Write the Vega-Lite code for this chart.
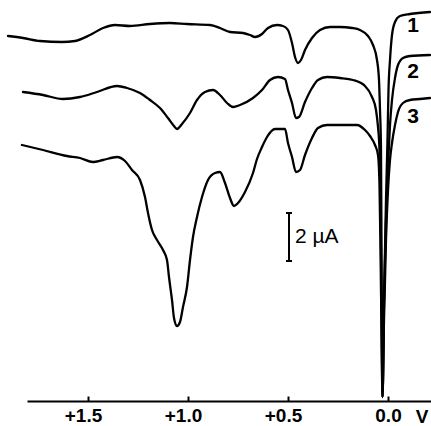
{
  "$schema": "https://vega.github.io/schema/vega-lite/v6.json",
  "width": 404,
  "height": 401,
  "padding": {"left": 27, "top": 0, "right": 0, "bottom": 25},
  "autosize": {"type": "none"},
  "background": "white",
  "config": {"view": {"stroke": null}},
  "datasets": {
    "curves": [
      {"curve":"1","E":1.90,"I":14.60},{"curve":"1","E":1.825,"I":14.52},{"curve":"1","E":1.74,"I":14.40},{"curve":"1","E":1.63,"I":14.36},{"curve":"1","E":1.565,"I":14.40},{"curve":"1","E":1.49,"I":14.64},{"curve":"1","E":1.425,"I":14.92},{"curve":"1","E":1.365,"I":15.04},{"curve":"1","E":1.29,"I":15.00},{"curve":"1","E":1.19,"I":15.08},{"curve":"1","E":1.09,"I":15.12},{"curve":"1","E":1.005,"I":15.08},{"curve":"1","E":0.89,"I":15.04},{"curve":"1","E":0.84,"I":14.92},{"curve":"1","E":0.79,"I":14.76},{"curve":"1","E":0.725,"I":14.72},{"curve":"1","E":0.69,"I":14.64},{"curve":"1","E":0.665,"I":14.56},{"curve":"1","E":0.63,"I":14.68},{"curve":"1","E":0.60,"I":14.92},{"curve":"1","E":0.555,"I":15.04},{"curve":"1","E":0.525,"I":15.00},{"curve":"1","E":0.50,"I":14.84},{"curve":"1","E":0.48,"I":14.32},{"curve":"1","E":0.465,"I":13.76},{"curve":"1","E":0.45,"I":13.52},{"curve":"1","E":0.435,"I":13.64},{"curve":"1","E":0.415,"I":14.04},{"curve":"1","E":0.38,"I":14.52},{"curve":"1","E":0.34,"I":14.84},{"curve":"1","E":0.29,"I":14.96},{"curve":"1","E":0.24,"I":14.96},{"curve":"1","E":0.18,"I":14.92},{"curve":"1","E":0.14,"I":14.84},{"curve":"1","E":0.10,"I":14.60},{"curve":"1","E":0.075,"I":14.24},{"curve":"1","E":0.055,"I":13.64},{"curve":"1","E":0.045,"I":12.84},{"curve":"1","E":0.04,"I":11.64},{"curve":"1","E":0.035,"I":10.04},{"curve":"1","E":0.0325,"I":6.04},{"curve":"1","E":0.0275,"I":0.16},{"curve":"1","E":0.02,"I":4.04},{"curve":"1","E":0.01,"I":8.04},{"curve":"1","E":0.0025,"I":10.44},{"curve":"1","E":-0.0025,"I":12.44},{"curve":"1","E":-0.01,"I":13.64},{"curve":"1","E":-0.02,"I":14.64},{"curve":"1","E":-0.035,"I":15.16},{"curve":"1","E":-0.06,"I":15.40},{"curve":"1","E":-0.11,"I":15.48},{"curve":"1","E":-0.21,"I":15.56},
      {"curve":"2","E":1.825,"I":12.36},{"curve":"2","E":1.725,"I":12.24},{"curve":"2","E":1.625,"I":12.08},{"curve":"2","E":1.54,"I":12.16},{"curve":"2","E":1.455,"I":12.36},{"curve":"2","E":1.355,"I":12.60},{"curve":"2","E":1.305,"I":12.52},{"curve":"2","E":1.24,"I":12.32},{"curve":"2","E":1.19,"I":12.04},{"curve":"2","E":1.14,"I":11.72},{"curve":"2","E":1.10,"I":11.32},{"curve":"2","E":1.07,"I":11.00},{"curve":"2","E":1.055,"I":10.88},{"curve":"2","E":1.03,"I":11.08},{"curve":"2","E":0.99,"I":11.52},{"curve":"2","E":0.955,"I":12.04},{"curve":"2","E":0.915,"I":12.36},{"curve":"2","E":0.875,"I":12.44},{"curve":"2","E":0.84,"I":12.24},{"curve":"2","E":0.805,"I":11.92},{"curve":"2","E":0.775,"I":11.76},{"curve":"2","E":0.74,"I":11.84},{"curve":"2","E":0.675,"I":12.12},{"curve":"2","E":0.63,"I":12.44},{"curve":"2","E":0.59,"I":12.84},{"curve":"2","E":0.55,"I":12.96},{"curve":"2","E":0.515,"I":12.88},{"curve":"2","E":0.50,"I":12.44},{"curve":"2","E":0.48,"I":11.92},{"curve":"2","E":0.46,"I":11.32},{"curve":"2","E":0.445,"I":11.36},{"curve":"2","E":0.415,"I":11.96},{"curve":"2","E":0.38,"I":12.52},{"curve":"2","E":0.35,"I":12.84},{"curve":"2","E":0.305,"I":12.96},{"curve":"2","E":0.24,"I":12.92},{"curve":"2","E":0.175,"I":12.84},{"curve":"2","E":0.115,"I":12.60},{"curve":"2","E":0.08,"I":12.16},{"curve":"2","E":0.06,"I":11.64},{"curve":"2","E":0.05,"I":10.96},{"curve":"2","E":0.0425,"I":10.04},{"curve":"2","E":0.0375,"I":8.04},{"curve":"2","E":0.0325,"I":4.04},{"curve":"2","E":0.0275,"I":0.16},{"curve":"2","E":0.02,"I":4.04},{"curve":"2","E":0.01,"I":7.24},{"curve":"2","E":0.0,"I":9.44},{"curve":"2","E":-0.01,"I":11.04},{"curve":"2","E":-0.02,"I":12.04},{"curve":"2","E":-0.035,"I":12.92},{"curve":"2","E":-0.05,"I":13.44},{"curve":"2","E":-0.075,"I":13.72},{"curve":"2","E":-0.11,"I":13.80},{"curve":"2","E":-0.21,"I":13.84},
      {"curve":"3","E":1.83,"I":10.24},{"curve":"3","E":1.725,"I":10.04},{"curve":"3","E":1.605,"I":9.80},{"curve":"3","E":1.54,"I":9.72},{"curve":"3","E":1.475,"I":9.56},{"curve":"3","E":1.425,"I":9.64},{"curve":"3","E":1.355,"I":9.76},{"curve":"3","E":1.315,"I":9.60},{"curve":"3","E":1.28,"I":9.24},{"curve":"3","E":1.24,"I":8.84},{"curve":"3","E":1.215,"I":8.16},{"curve":"3","E":1.20,"I":7.52},{"curve":"3","E":1.18,"I":6.84},{"curve":"3","E":1.155,"I":6.44},{"curve":"3","E":1.125,"I":6.04},{"curve":"3","E":1.105,"I":5.64},{"curve":"3","E":1.095,"I":4.96},{"curve":"3","E":1.08,"I":4.04},{"curve":"3","E":1.07,"I":3.32},{"curve":"3","E":1.055,"I":3.00},{"curve":"3","E":1.04,"I":3.16},{"curve":"3","E":1.025,"I":3.76},{"curve":"3","E":1.005,"I":4.56},{"curve":"3","E":0.99,"I":5.64},{"curve":"3","E":0.975,"I":6.56},{"curve":"3","E":0.955,"I":7.36},{"curve":"3","E":0.93,"I":8.16},{"curve":"3","E":0.90,"I":8.84},{"curve":"3","E":0.865,"I":9.12},{"curve":"3","E":0.84,"I":9.16},{"curve":"3","E":0.815,"I":8.72},{"curve":"3","E":0.79,"I":8.12},{"curve":"3","E":0.77,"I":7.80},{"curve":"3","E":0.75,"I":7.92},{"curve":"3","E":0.715,"I":8.36},{"curve":"3","E":0.675,"I":9.12},{"curve":"3","E":0.655,"I":9.68},{"curve":"3","E":0.63,"I":10.16},{"curve":"3","E":0.605,"I":10.56},{"curve":"3","E":0.565,"I":10.88},{"curve":"3","E":0.515,"I":10.88},{"curve":"3","E":0.50,"I":10.32},{"curve":"3","E":0.48,"I":9.76},{"curve":"3","E":0.46,"I":9.16},{"curve":"3","E":0.44,"I":9.24},{"curve":"3","E":0.415,"I":9.84},{"curve":"3","E":0.38,"I":10.52},{"curve":"3","E":0.35,"I":10.92},{"curve":"3","E":0.305,"I":11.04},{"curve":"3","E":0.24,"I":11.04},{"curve":"3","E":0.155,"I":11.04},{"curve":"3","E":0.115,"I":10.84},{"curve":"3","E":0.09,"I":10.60},{"curve":"3","E":0.065,"I":10.24},{"curve":"3","E":0.05,"I":9.84},{"curve":"3","E":0.0425,"I":8.64},{"curve":"3","E":0.0375,"I":6.04},{"curve":"3","E":0.0325,"I":2.84},{"curve":"3","E":0.0275,"I":0.16},{"curve":"3","E":0.02,"I":3.24},{"curve":"3","E":0.01,"I":6.44},{"curve":"3","E":0.0,"I":8.44},{"curve":"3","E":-0.01,"I":9.64},{"curve":"3","E":-0.02,"I":10.32},{"curve":"3","E":-0.035,"I":11.04},{"curve":"3","E":-0.05,"I":11.56},{"curve":"3","E":-0.075,"I":11.92},{"curve":"3","E":-0.11,"I":12.04},{"curve":"3","E":-0.16,"I":12.08},{"curve":"3","E":-0.21,"I":12.12}
    ],
    "bar": [
      {"E":0.495,"E2":0.495,"I":7.52,"I2":5.6},
      {"E":0.51,"E2":0.48,"I":7.52,"I2":7.52},
      {"E":0.51,"E2":0.48,"I":5.6,"I2":5.6}
    ],
    "numbers": [
      {"E":-0.125,"I":15.0,"t":"1"},
      {"E":-0.125,"I":13.16,"t":"2"},
      {"E":-0.125,"I":11.36,"t":"3"}
    ],
    "scaleText": [{"E":0.465,"I":6.56,"t":"2 µA"}],
    "unit": [{"E":-0.17,"I":-0.62,"t":"V"}]
  },
  "encoding": {
    "x": {
      "field": "E", "type": "quantitative",
      "scale": {"domain": [-0.215, 1.805], "reverse": true, "nice": false, "zero": false},
      "axis": {
        "title": null, "values": [1.5, 1.0, 0.5, 0.0],
        "labelExpr": "datum.value == 0 ? '0.0' : '+' + format(datum.value, '.1f')",
        "domainColor": "black", "domainWidth": 2,
        "tickColor": "black", "tickWidth": 2, "tickSize": -5,
        "labelFont": "Liberation Sans", "labelFontWeight": "bold", "labelFontSize": 19,
        "labelColor": "black", "labelPadding": 10, "labelFlush": false, "grid": false,
        "labelOffset": {"condition": {"test": "datum.value == 0", "value": 0}, "value": -5}
      }
    },
    "y": {
      "field": "I", "type": "quantitative",
      "scale": {"domain": [0, 16.04], "nice": false, "zero": false},
      "axis": null
    }
  },
  "layer": [
    {
      "data": {"name": "curves"},
      "mark": {"type": "line", "color": "black", "strokeWidth": 2.3, "strokeJoin": "round", "strokeCap": "round", "interpolate": "monotone", "clip": false},
      "encoding": {
        "detail": {"field": "curve"},
        "order": {"field": "E", "sort": "descending"}
      }
    },
    {
      "data": {"name": "bar"},
      "mark": {"type": "rule", "color": "black", "strokeWidth": 2},
      "encoding": {"x2": {"field": "E2"}, "y2": {"field": "I2"}}
    },
    {
      "data": {"name": "numbers"},
      "mark": {"type": "text", "font": "Liberation Sans", "fontWeight": "bold", "fontSize": 21, "color": "black", "align": "center", "baseline": "middle"},
      "encoding": {"text": {"field": "t"}}
    },
    {
      "data": {"name": "scaleText"},
      "mark": {"type": "text", "font": "Liberation Sans", "fontSize": 21, "color": "black", "align": "left", "baseline": "middle"},
      "encoding": {"text": {"field": "t"}}
    },
    {
      "data": {"name": "unit"},
      "mark": {"type": "text", "font": "Liberation Sans", "fontWeight": "bold", "fontSize": 19, "color": "black", "align": "center", "baseline": "middle"},
      "encoding": {"text": {"field": "t"}}
    }
  ]
}
